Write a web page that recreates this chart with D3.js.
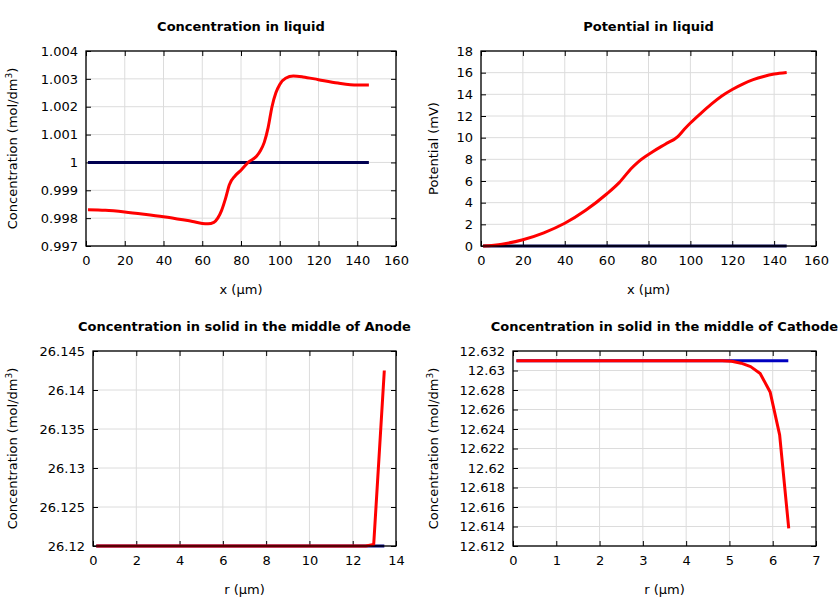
<!DOCTYPE html>
<html><head><meta charset="utf-8">
<script src="https://cdn.jsdelivr.net/npm/d3@7"></script>
<style>body{margin:0;background:#fff}svg{display:block;font-family:"DejaVu Sans",sans-serif}</style>
</head><body>
<svg id="c" width="840" height="600"></svg>
<script>
// Panel 1: Concentration in liquid
const liqX = [1,10,20,30,40,50,55,60,63,66,68,70,72,74,77,80,84,88,90,92,94,96,98,100,103,107,112,120,130,140,146];
const liqC = [0.99830,0.99828,0.99822,0.99814,0.99805,0.99794,0.99788,0.99781,0.99780,0.99785,0.99800,0.99828,0.99870,0.99920,0.99952,0.99972,1.00002,1.00022,1.00042,1.00072,1.00125,1.00200,1.00250,1.00280,1.00302,1.00310,1.00307,1.00297,1.00285,1.00278,1.00278];
const liqInit = [1.0,1.0];
const liqInitX = [1,146];
// Panel 2: Potential in liquid
const potX = [1,10,20,30,40,50,60,66,72,75,82,88,94,97,100,105,110,115,120,125,130,135,140,146];
const potV = [0.0,0.17,0.58,1.22,2.1,3.3,4.8,5.85,7.2,7.75,8.7,9.4,10.1,10.75,11.35,12.25,13.1,13.85,14.45,14.95,15.35,15.65,15.87,16.02];
const potInit = [0,0];
const potInitX = [1,146];
// Panel 3: Anode solid
const anR = [0.15,2,4,6,8,10,12,12.6,12.97,13.46];
const anC = [26.12,26.12,26.12,26.12,26.12,26.12,26.12,26.12,26.1202,26.1425];
const anInitR = [0.15,13.46];
const anInit = [26.12,26.12];
// Panel 4: Cathode solid
const caR = [0.08,1,2,3,4,4.6,4.83,5.05,5.27,5.49,5.71,5.94,6.16,6.37];
const caC = [12.631,12.631,12.631,12.631,12.631,12.631,12.63099,12.63095,12.63075,12.6304,12.6297,12.6278,12.6234,12.6138];
const caInitR = [0.08,6.36];
const caInit = [12.631,12.631];

const xTicks1 = [0,20,40,60,80,100,120,140,160];
const yTicks1 = [0.997,0.998,0.999,1.000,1.001,1.002,1.003,1.004];
const yTicks2 = [0,2,4,6,8,10,12,14,16,18];
const xTicks3 = [0,2,4,6,8,10,12,14];
const yTicks3 = [26.12,26.125,26.13,26.135,26.14,26.145];
const xTicks4 = [0,1,2,3,4,5,6,7];
const yTicks4 = [12.612,12.614,12.616,12.618,12.62,12.622,12.624,12.626,12.628,12.63,12.632];

const svg = d3.select("#c");
const fmt = d => String(+(+d).toFixed(6));

function panel(o){
  const g = svg.append("g");
  const x = d3.scaleLinear().domain([o.xt[0], o.xt[o.xt.length-1]]).range([o.l, o.r]);
  const y = d3.scaleLinear().domain([o.yt[0], o.yt[o.yt.length-1]]).range([o.b, o.t]);
  g.selectAll(".gx").data(o.xt).join("line").attr("x1",d=>x(d)).attr("x2",d=>x(d)).attr("y1",o.t).attr("y2",o.b).attr("stroke","#dcdcdc").attr("stroke-width",1);
  g.selectAll(".gy").data(o.yt).join("line").attr("y1",d=>y(d)).attr("y2",d=>y(d)).attr("x1",o.l).attr("x2",o.r).attr("stroke","#dcdcdc").attr("stroke-width",1);
  g.append("g").attr("transform",`translate(0,${o.b})`).call(d3.axisBottom(x).tickValues(o.xt).tickFormat(fmt).tickSizeInner(-5).tickSizeOuter(0).tickPadding(10));
  g.append("g").attr("transform",`translate(${o.l},0)`).call(d3.axisLeft(y).tickValues(o.yt).tickFormat(fmt).tickSizeInner(-5).tickSizeOuter(0).tickPadding(8));
  g.append("g").attr("transform",`translate(0,${o.t})`).call(d3.axisTop(x).tickValues(o.xt).tickFormat("").tickSizeInner(-5).tickSizeOuter(0));
  g.append("g").attr("transform",`translate(${o.r},0)`).call(d3.axisRight(y).tickValues(o.yt).tickFormat("").tickSizeInner(-5).tickSizeOuter(0));
  g.selectAll(".domain").remove();
  g.selectAll(".tick text").attr("font-size",13).attr("font-family","DejaVu Sans").attr("fill","#000");
  g.selectAll(".tick line").attr("stroke","#000");
  const line = (xs,ys,curve) => d3.line().x((d,i)=>x(xs[i])).y(d=>y(d)).curve(curve)(ys);
  g.append("path").attr("d",line(o.initX,o.initY,d3.curveLinear)).attr("fill","none").attr("stroke",o.initColor).attr("stroke-width",3);
  g.append("path").attr("d",line(o.sx,o.sy,o.curve)).attr("fill","none").attr("stroke","#ff0000").attr("stroke-width",3).attr("stroke-linejoin","round");
  g.append("rect").attr("x",o.l).attr("y",o.t).attr("width",o.r-o.l).attr("height",o.b-o.t).attr("fill","none").attr("stroke","#000").attr("stroke-width",1.3);
  g.append("text").attr("x",(o.l+o.r)/2).attr("y",o.t-20).attr("text-anchor","middle").attr("font-size",13).attr("font-weight","bold").text(o.title);
  g.append("text").attr("x",(o.l+o.r)/2).attr("y",o.b+48).attr("text-anchor","middle").attr("font-size",13).text(o.xlab);
  const yl = g.append("text").attr("transform",`translate(${o.ylx},${(o.t+o.b)/2}) rotate(-90)`).attr("text-anchor","middle").attr("font-size",13);
  yl.append("tspan").text(o.ylab);
  if(o.sup){ yl.append("tspan").attr("dy",-5).attr("font-size",9).text("3"); yl.append("tspan").attr("dy",5).text(")"); }
}

panel({l:86,r:396,t:51,b:246,xt:xTicks1,yt:yTicks1,sx:liqX,sy:liqC,initX:liqInitX,initY:liqInit,initColor:"#000050",curve:d3.curveMonotoneX,
  title:"Concentration in liquid",xlab:"x (µm)",ylab:"Concentration (mol/dm",sup:true,ylx:17});
panel({l:481,r:816,t:51,b:246,xt:xTicks1,yt:yTicks2,sx:potX,sy:potV,initX:potInitX,initY:potInit,initColor:"#000050",curve:d3.curveMonotoneX,
  title:"Potential in liquid",xlab:"x (µm)",ylab:"Potential (mV)",sup:false,ylx:438});
panel({l:93,r:396,t:351,b:546,xt:xTicks3,yt:yTicks3,sx:anR,sy:anC,initX:anInitR,initY:anInit,initColor:"#000080",curve:d3.curveLinear,
  title:"Concentration in solid in the middle of Anode",xlab:"r (µm)",ylab:"Concentration (mol/dm",sup:true,ylx:17});
panel({l:513,r:816,t:351,b:546,xt:xTicks4,yt:yTicks4,sx:caR,sy:caC,initX:caInitR,initY:caInit,initColor:"#0000c0",curve:d3.curveLinear,
  title:"Concentration in solid in the middle of Cathode",xlab:"r (µm)",ylab:"Concentration (mol/dm",sup:true,ylx:438});
</script>
</body></html>
